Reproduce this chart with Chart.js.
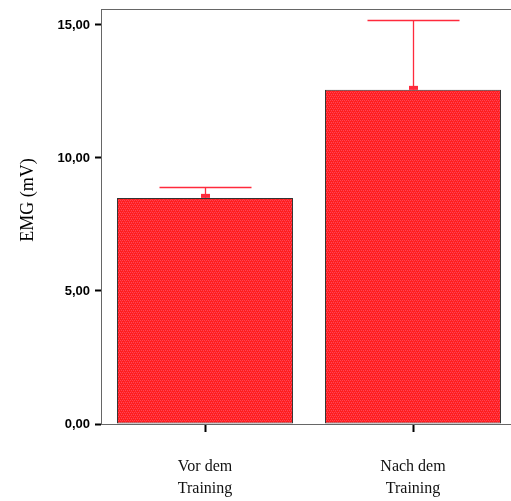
<!DOCTYPE html>
<html>
<head>
<meta charset="utf-8">
<script src="https://cdn.jsdelivr.net/npm/chart.js@4/dist/chart.umd.min.js"></script>
<style>
  html, body { margin: 0; padding: 0; background: #fff; overflow: hidden; }
  #wrap { width: 517px; height: 501px; }
</style>
</head>
<body>
<div id="wrap"><canvas id="c" width="517" height="501"></canvas></div>
<script>
// Mean EMG before and after training, with the upper error whisker
const categories = [["Vor dem", "Training"], ["Nach dem", "Training"]];
const means = [8.50, 12.56];
const errors = [0.42, 2.63];
const yTickValues = [0, 5, 10, 15];
const yAxisTitle = "EMG (mV)";

// Dotted red fill for the bars
function makePattern() {
  const p = document.createElement('canvas');
  p.width = 4; p.height = 4;
  const g = p.getContext('2d');
  g.fillStyle = '#ff1e1e';
  g.fillRect(0, 0, 4, 4);
  g.fillStyle = '#ff4458';
  g.fillRect(0, 0, 1, 1); g.fillRect(2, 0, 1, 1);
  g.fillRect(1, 2, 1, 1); g.fillRect(3, 2, 1, 1);
  g.fillStyle = '#ff2e36';
  g.fillRect(1, 1, 1, 1); g.fillRect(3, 3, 1, 1);
  return g.createPattern(p, 'repeat');
}
const ctx0 = document.getElementById('c').getContext('2d');
const barFill = makePattern();

// Frame along the top of the plot area plus error whiskers and axis title
const extras = {
  id: 'extras',
  afterDatasetsDraw(chart) {
    const { ctx, chartArea } = chart;
    const x = chart.scales.x, y = chart.scales.y;
    ctx.save();
    ctx.strokeStyle = '#666';
    ctx.lineWidth = 1;
    ctx.beginPath();
    ctx.moveTo(chartArea.left, chartArea.top + 0.5);
    ctx.lineTo(chartArea.right, chartArea.top + 0.5);
    ctx.stroke();

    ctx.strokeStyle = '#ff2a3c';
    ctx.fillStyle = '#ff2a3c';
    ctx.lineWidth = 1.3;
    means.forEach((m, i) => {
      const cx = Math.round(x.getPixelForValue(i)) + 0.5;
      const yTop = y.getPixelForValue(m);
      const yErr = Math.round(y.getPixelForValue(m + errors[i])) + 0.5;
      ctx.beginPath();
      ctx.moveTo(cx, yTop);
      ctx.lineTo(cx, yErr);
      ctx.moveTo(cx - 46, yErr);
      ctx.lineTo(cx + 46, yErr);
      ctx.stroke();
      ctx.fillRect(cx - 4.5, yTop - 4, 9, 4);
    });

    ctx.fillStyle = '#000';
    ctx.font = '18px "Liberation Serif", "Times New Roman", serif';
    ctx.textAlign = 'center';
    ctx.textBaseline = 'middle';
    ctx.translate(28, 200);
    ctx.rotate(-Math.PI / 2);
    ctx.fillText(yAxisTitle, 0, 0);
    ctx.restore();
  }
};

new Chart(ctx0, {
  type: 'bar',
  data: {
    labels: categories,
    datasets: [{
      data: means,
      backgroundColor: barFill,
      borderColor: '#333',
      borderWidth: 1,
      borderSkipped: false,
      categoryPercentage: 1,
      barPercentage: 0.846
    }]
  },
  options: {
    responsive: false,
    animation: false,
    devicePixelRatio: 1,
    layout: { padding: { top: 9, left: 0, right: 0, bottom: 0 } },
    plugins: { legend: { display: false }, tooltip: { enabled: false } },
    scales: {
      x: {
        afterFit(s) { s.height = 77; s.paddingLeft = 0; s.paddingRight = 0; },
        border: { display: true, color: '#666', width: 1 },
        grid: { offset: false, drawOnChartArea: false, drawTicks: true, tickLength: 8, tickWidth: 2, tickColor: '#000' },
        ticks: {
          color: '#111',
          padding: 24,
          maxRotation: 0,
          font: { family: '"Liberation Serif", "Times New Roman", serif', size: 16, lineHeight: 1.35 }
        }
      },
      y: {
        min: 0,
        max: 15.6,
        afterFit(s) { s.width = 101; s.paddingTop = 0; s.paddingBottom = 0; },
        afterBuildTicks(s) { s.ticks = yTickValues.map(v => ({ value: v })); },
        border: { display: true, color: '#666', width: 1 },
        grid: { drawOnChartArea: false, drawTicks: true, tickLength: 6, tickWidth: 2, tickColor: '#000' },
        ticks: {
          color: '#000',
          padding: 5,
          font: { family: '"Liberation Sans", Arial, sans-serif', size: 13, weight: 'bold' },
          callback: v => v.toFixed(2).replace('.', ',')
        }
      }
    }
  },
  plugins: [extras]
});
</script>
</body>
</html>
